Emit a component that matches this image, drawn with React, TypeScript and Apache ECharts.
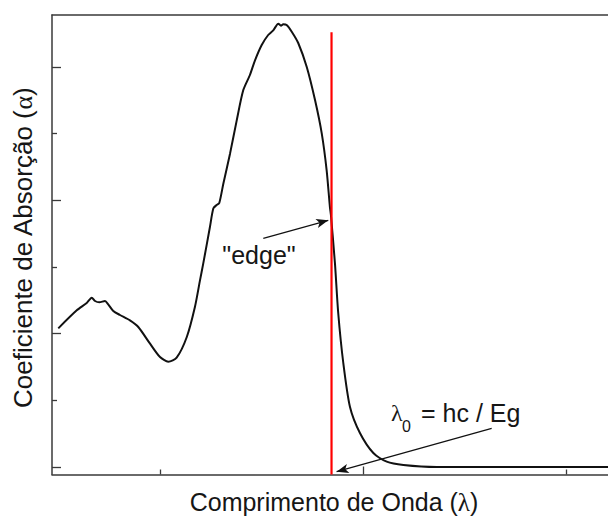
import React, { useEffect, useRef } from "react";
import * as echarts from "echarts";

// Wavelength (arbitrary units) and absorption coefficient (arbitrary units)
const wavelength = [
  49.9, 59.0, 63.9, 66.4, 68.0, 70.1, 72.9, 74.5, 77.0, 80.3, 85.2, 89.3, 95.1, 100.0,
  104.1, 108.2, 113.2, 117.2, 119.7, 121.3, 124.6, 126.3, 127.9, 129.2, 131.2, 134.5,
  137.8, 141.0, 144.3, 146.8, 150.1, 153.3, 155.8, 158.3, 159.6, 160.7, 162.4, 164.9,
  168.1, 172.3, 176.4, 179.7, 182.1, 183.7, 184.2, 186.2, 187.8, 190.3, 193.6, 198.5,
  205.1, 211.7, 219.9, 236.3, 320.7,
];
const absorption = [
  2.08, 2.35, 2.46, 2.54, 2.49, 2.47, 2.49, 2.44, 2.34, 2.28, 2.2, 2.1, 1.85, 1.65,
  1.58, 1.64, 1.95, 2.4, 2.8, 3.05, 3.6, 3.88, 3.93, 3.96, 4.25, 4.7,
  5.2, 5.65, 5.88, 6.1, 6.33, 6.48, 6.55, 6.65, 6.62, 6.64, 6.63, 6.53,
  6.36, 6.0, 5.5, 5.0, 4.45, 3.9, 3.78, 3.05, 2.31, 1.56, 0.9, 0.51,
  0.21, 0.08, 0.03, 0.0, 0.0,
];

// Band edge wavelength (red vertical line)
const edgeWavelength = 184.5;
const edgeTop = 6.52;

// Axis ranges and ticks
const xMin = 46.8;
const xMax = 320.7;
const yMin = -0.1125;
const yMax = 6.78;
const xMajorTicks = [200];
const xMinorTicks = [100, 300];
const yMajorTicks = [0, 2, 4, 6];
const yMinorTicks = [1, 3, 5];

// Annotation arrows [from, to] in data units
const edgeArrow = [[150.9, 3.43], [182.9, 3.7]];
const lambdaArrow = [[263.4, 0.58], [187.0, -0.07]];

const AXIS_COLOR = "#3a3a3a";
const TEXT_COLOR = "#161616";
const SANS = "'Liberation Sans', Arial, sans-serif";
const SERIF = "'Liberation Serif', 'Times New Roman', serif";

export default function App() {
  const ref = useRef<HTMLDivElement>(null);

  useEffect(() => {
    if (!ref.current) return;
    const chart = echarts.init(ref.current, null, { renderer: "svg" });

    const axisLine = { show: true, onZero: false, lineStyle: { color: AXIS_COLOR, width: 1.5 } };
    const noLine = { show: false, onZero: false };
    const tickStyle = { color: AXIS_COLOR, width: 1.3 };

    const curve = wavelength.map((x, i) => [x, absorption[i]]);

    const arrow = (a: number[][]) => [
      { coord: a[0], symbol: "none" },
      { coord: a[1], symbol: "arrow" },
    ];

    chart.setOption({
      animation: false,
      backgroundColor: "#ffffff",
      grid: { left: 52, top: 15, right: 0, bottom: 41.5, containLabel: false },
      xAxis: [
        {
          type: "value",
          min: xMin,
          max: xMax,
          position: "bottom",
          axisLine,
          axisTick: { show: true, inside: true, length: 8, lineStyle: tickStyle, customValues: xMajorTicks },
          axisLabel: { show: false },
          splitLine: { show: false },
        },
        {
          type: "value",
          min: xMin,
          max: xMax,
          position: "bottom",
          axisLine: noLine,
          axisTick: { show: true, inside: true, length: 5, lineStyle: tickStyle, customValues: xMinorTicks },
          axisLabel: { show: false },
          splitLine: { show: false },
        },
        {
          type: "value",
          min: xMin,
          max: xMax,
          position: "top",
          axisLine,
          axisTick: { show: false },
          axisLabel: { show: false },
          splitLine: { show: false },
        },
      ],
      yAxis: [
        {
          type: "value",
          min: yMin,
          max: yMax,
          position: "left",
          axisLine,
          axisTick: { show: true, inside: true, length: 9, lineStyle: tickStyle, customValues: yMajorTicks },
          axisLabel: { show: false },
          splitLine: { show: false },
        },
        {
          type: "value",
          min: yMin,
          max: yMax,
          position: "left",
          axisLine: noLine,
          axisTick: { show: true, inside: true, length: 5, lineStyle: tickStyle, customValues: yMinorTicks },
          axisLabel: { show: false },
          splitLine: { show: false },
        },
      ],
      series: [
        {
          name: "Absorção",
          type: "line",
          xAxisIndex: 0,
          yAxisIndex: 0,
          data: curve,
          showSymbol: false,
          smooth: 0.25,
          lineStyle: { color: "#111111", width: 2 },
          silent: true,
          markLine: {
            silent: true,
            animation: false,
            symbolSize: [7, 12],
            label: { show: false },
            lineStyle: { color: "#111111", width: 1.2, type: "solid" },
            emphasis: { disabled: true },
            data: [arrow(edgeArrow), arrow(lambdaArrow)],
          },
        },
        {
          name: "edge",
          type: "line",
          xAxisIndex: 0,
          yAxisIndex: 0,
          data: [
            [edgeWavelength, yMin],
            [edgeWavelength, edgeTop],
          ],
          showSymbol: false,
          lineStyle: { color: "#ff0000", width: 2.2 },
          silent: true,
        },
      ],
      graphic: [
        {
          type: "text",
          x: 334,
          y: 502,
          silent: true,
          style: {
            text: "{a|Comprimento de Onda (}{b|λ}{a|)}",
            align: "center",
            verticalAlign: "middle",
            rich: {
              a: { fontFamily: SANS, fontSize: 25, fill: TEXT_COLOR },
              b: { fontFamily: SERIF, fontSize: 25, fill: TEXT_COLOR },
            },
          },
        },
        {
          type: "text",
          x: 23,
          y: 248,
          rotation: Math.PI / 2,
          silent: true,
          style: {
            text: "{a|Coeficiente de Absorção (}{b|α}{a|)}",
            align: "center",
            verticalAlign: "middle",
            rich: {
              a: { fontFamily: SANS, fontSize: 26, fill: TEXT_COLOR },
              b: { fontFamily: SERIF, fontSize: 26, fill: TEXT_COLOR },
            },
          },
        },
        {
          type: "text",
          x: 259,
          y: 255,
          silent: true,
          style: {
            text: '"edge"',
            fontFamily: SANS,
            fontSize: 25,
            fill: TEXT_COLOR,
            align: "center",
            verticalAlign: "middle",
          },
        },
        {
          type: "text",
          x: 391,
          y: 413,
          silent: true,
          style: {
            text: "λ",
            fontFamily: SERIF,
            fontSize: 24,
            fill: TEXT_COLOR,
            align: "left",
            verticalAlign: "middle",
          },
        },
        {
          type: "text",
          x: 402,
          y: 426,
          silent: true,
          style: {
            text: "0",
            fontFamily: SANS,
            fontSize: 16,
            fill: TEXT_COLOR,
            align: "left",
            verticalAlign: "middle",
          },
        },
        {
          type: "text",
          x: 421,
          y: 413,
          silent: true,
          style: {
            text: "= hc / Eg",
            fontFamily: SANS,
            fontSize: 25,
            fill: TEXT_COLOR,
            align: "left",
            verticalAlign: "middle",
          },
        },
      ],
    });

    return () => chart.dispose();
  }, []);

  return (
    <div
      ref={ref}
      style={{ position: "absolute", left: 0, top: 0, width: 608, height: 516, background: "#fff" }}
    />
  );
}
